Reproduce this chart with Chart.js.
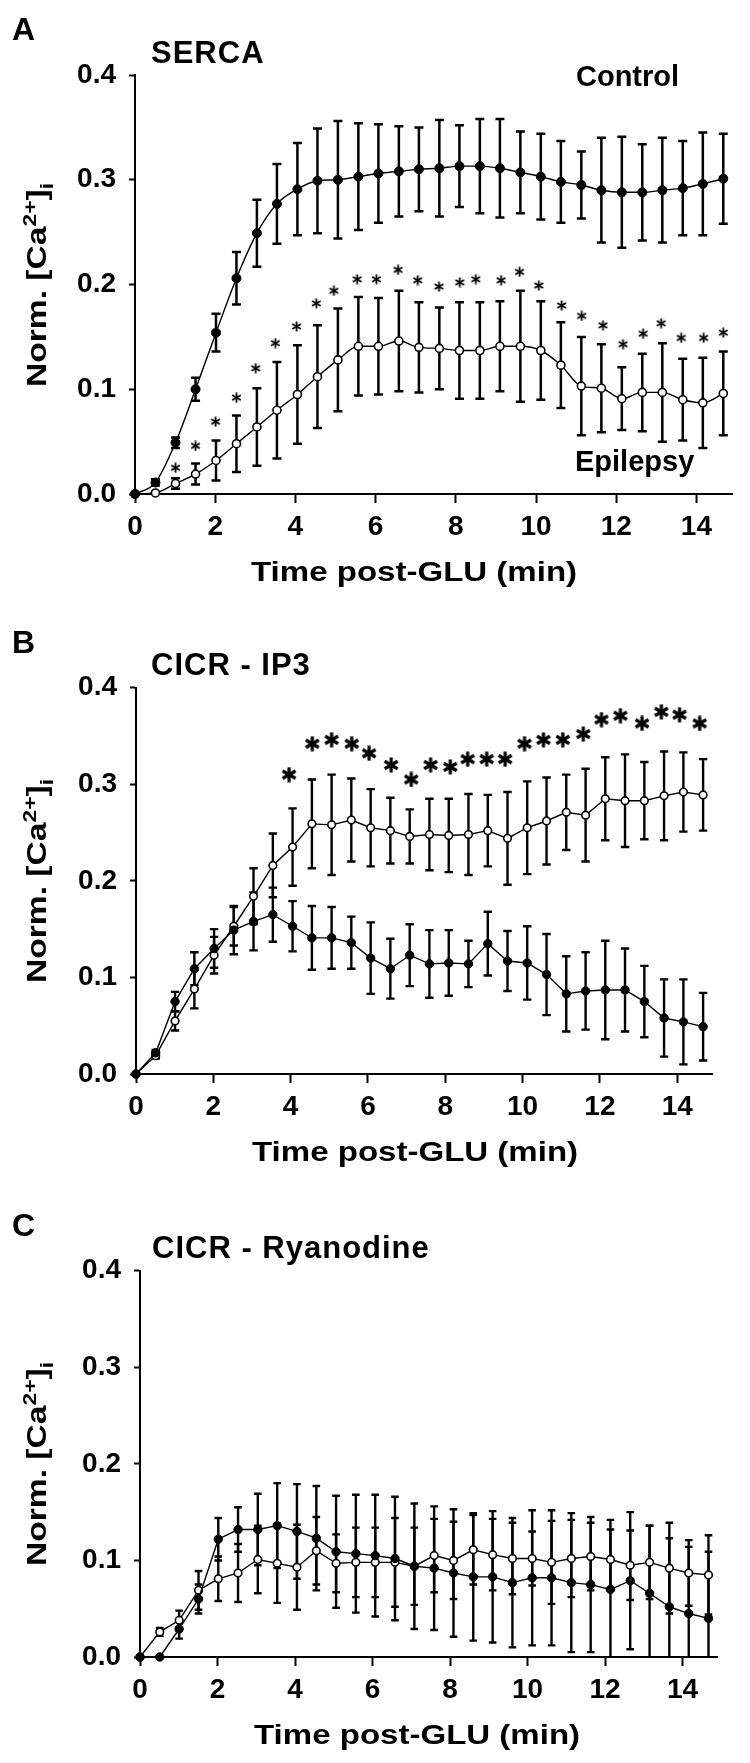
<!DOCTYPE html>
<html>
<head>
<meta charset="utf-8">
<title>Norm. [Ca2+]i post-GLU</title>
<script src="https://cdn.jsdelivr.net/npm/chart.js@4.4.1/dist/chart.umd.min.js"></script>
<style>
  html, body { margin: 0; padding: 0; background: #fff; }
  #page { position: relative; width: 750px; height: 1763px; overflow: hidden;
          font-family: "Liberation Sans", Arial, sans-serif; font-weight: bold; color: #000; }
  #page canvas { position: absolute; left: 0; }
  .txt { position: absolute; white-space: nowrap; line-height: 1; }
  .letter { font-size: 32px; }
  .title { font-size: 31px; letter-spacing: 1px; }
  .group { font-size: 29px; }
  .xlab { font-size: 28px; transform: scaleX(1.18); transform-origin: 0 0; }
  .ylab { font-size: 28px; line-height: 28px; transform: translate(-50%, -50%) rotate(-90deg) scaleX(1.2); }
  .ylab sup, .ylab sub { font-size: 19px; line-height: 0; }
</style>
</head>
<body>
<div id="page">
  <canvas id="chartA" width="750" height="560" style="top:0px"></canvas>
  <canvas id="chartB" width="750" height="560" style="top:580px"></canvas>
  <canvas id="chartC" width="750" height="560" style="top:1163px"></canvas>

  <!-- panel A -->
  <div class="txt letter" style="left:12px;top:13px">A</div>
  <div class="txt title" style="left:151px;top:37px">SERCA</div>
  <div class="txt group" style="left:576px;top:62px">Control</div>
  <div class="txt group" style="left:575px;top:447px">Epilepsy</div>
  <div class="txt xlab" style="left:251px;top:558px">Time post-GLU (min)</div>
  <div class="txt ylab" style="left:37px;top:285px">Norm. [Ca<sup>2+</sup>]<sub>i</sub></div>

  <!-- panel B -->
  <div class="txt letter" style="left:12px;top:626px">B</div>
  <div class="txt title" style="left:151px;top:649px">CICR - IP3</div>
  <div class="txt xlab" style="left:252px;top:1138px">Time post-GLU (min)</div>
  <div class="txt ylab" style="left:37px;top:881px">Norm. [Ca<sup>2+</sup>]<sub>i</sub></div>

  <!-- panel C -->
  <div class="txt letter" style="left:12px;top:1209px">C</div>
  <div class="txt title" style="left:152px;top:1232px">CICR - Ryanodine</div>
  <div class="txt xlab" style="left:254px;top:1721px">Time post-GLU (min)</div>
  <div class="txt ylab" style="left:37px;top:1464px">Norm. [Ca<sup>2+</sup>]<sub>i</sub></div>
</div>

<script>
'use strict';

/* ── Data ── */
const timeMin = [0, 0.51, 1.01, 1.51, 2.02, 2.53, 3.04, 3.54, 4.05, 4.55, 5.06, 5.57, 6.07, 6.58, 7.08,
                 7.59, 8.09, 8.6, 9.1, 9.61, 10.12, 10.62, 11.13, 11.63, 12.14, 12.65, 13.15, 13.66, 14.16, 14.67];
const xTicks = [0, 2, 4, 6, 8, 10, 12, 14];
const yTicks = [0, 0.1, 0.2, 0.3, 0.4];

// A - SERCA
const sercaCtrl    = [0, 0.011, 0.049, 0.100, 0.154, 0.206, 0.249, 0.277, 0.291, 0.299, 0.300, 0.303, 0.306, 0.308, 0.310,
                      0.311, 0.313, 0.313, 0.311, 0.307, 0.303, 0.298, 0.295, 0.290, 0.288, 0.288, 0.290, 0.292, 0.296, 0.301];
const sercaCtrlErr = [0, 0.003, 0.005, 0.011, 0.018, 0.025, 0.032, 0.038, 0.044, 0.050, 0.056, 0.051, 0.047, 0.043, 0.040,
                      0.046, 0.039, 0.045, 0.047, 0.039, 0.041, 0.039, 0.032, 0.050, 0.053, 0.046, 0.050, 0.045, 0.049, 0.043];
const sercaEpi     = [0, 0.001, 0.010, 0.019, 0.032, 0.048, 0.064, 0.080, 0.095, 0.112, 0.128, 0.141, 0.141, 0.146, 0.140,
                      0.139, 0.137, 0.137, 0.141, 0.141, 0.137, 0.123, 0.103, 0.101, 0.091, 0.097, 0.097, 0.090, 0.087, 0.096];
const sercaEpiErr  = [0, 0, 0.005, 0.010, 0.019, 0.027, 0.037, 0.046, 0.047, 0.049, 0.049, 0.047, 0.046, 0.048, 0.043,
                      0.039, 0.046, 0.046, 0.043, 0.053, 0.047, 0.041, 0.047, 0.042, 0.030, 0.037, 0.047, 0.039, 0.043, 0.040];
const sercaSigTime = [1.01, 1.51, 2.01, 2.53, 3.01, 3.5, 4.03, 4.52, 4.96, 5.54, 6.02, 6.56, 7.05, 7.58,
                      8.1, 8.5, 9.13, 9.59, 10.07, 10.64, 11.14, 11.67, 12.17, 12.67, 13.12, 13.62, 14.18, 14.67];
const sercaSigY    = [0.025, 0.046, 0.069, 0.092, 0.120, 0.144, 0.160, 0.182, 0.194, 0.205, 0.205, 0.214, 0.204, 0.198,
                      0.202, 0.205, 0.204, 0.212, 0.199, 0.180, 0.170, 0.161, 0.143, 0.153, 0.163, 0.149, 0.149, 0.154];

// B - CICR - IP3
const ip3Ctrl    = [0, 0.022, 0.075, 0.109, 0.130, 0.149, 0.158, 0.165, 0.153, 0.141, 0.141, 0.136, 0.120, 0.109, 0.123,
                    0.114, 0.115, 0.114, 0.135, 0.117, 0.115, 0.103, 0.083, 0.086, 0.087, 0.087, 0.075, 0.058, 0.054, 0.049];
const ip3CtrlErr = [0, 0.003, 0.010, 0.017, 0.020, 0.025, 0.030, 0.028, 0.026, 0.033, 0.032, 0.027, 0.037, 0.031, 0.032,
                    0.035, 0.034, 0.024, 0.033, 0.031, 0.038, 0.042, 0.039, 0.040, 0.051, 0.043, 0.037, 0.040, 0.044, 0.035];
const ip3Epi     = [0, 0.019, 0.055, 0.088, 0.123, 0.153, 0.184, 0.216, 0.235, 0.259, 0.258, 0.263, 0.255, 0.252, 0.246,
                    0.248, 0.247, 0.248, 0.252, 0.244, 0.255, 0.262, 0.271, 0.268, 0.285, 0.283, 0.283, 0.288, 0.292, 0.289];
const ip3EpiErr  = [0, 0.003, 0.010, 0.020, 0.019, 0.020, 0.029, 0.033, 0.040, 0.046, 0.052, 0.043, 0.040, 0.034, 0.028,
                    0.037, 0.038, 0.042, 0.037, 0.048, 0.048, 0.045, 0.039, 0.048, 0.043, 0.048, 0.040, 0.046, 0.041, 0.037];
const ip3SigTime = [3.96, 4.56, 5.06, 5.58, 6.03, 6.6, 7.12, 7.62, 8.13, 8.58, 9.07, 9.55, 10.05, 10.54, 11.04,
                    11.57, 12.04, 12.53, 13.09, 13.59, 14.06, 14.58];
const ip3SigY    = [0.310, 0.342, 0.346, 0.342, 0.332, 0.320, 0.305, 0.320, 0.318, 0.326, 0.326, 0.326, 0.342, 0.346, 0.346,
                    0.352, 0.367, 0.371, 0.363, 0.375, 0.372, 0.363];

// C - CICR - Ryanodine
const ryaCtrl    = [0, 0, 0.029, 0.060, 0.122, 0.132, 0.132, 0.136, 0.130, 0.123, 0.109, 0.107, 0.105, 0.102, 0.094,
                    0.092, 0.087, 0.083, 0.083, 0.077, 0.082, 0.082, 0.077, 0.075, 0.070, 0.079, 0.066, 0.052, 0.045, 0.040];
const ryaCtrlErr = [0, 0, 0.010, 0.015, 0.022, 0.023, 0.037, 0.044, 0.049, 0.054, 0.058, 0.061, 0.063, 0.064, 0.065,
                    0.064, 0.066, 0.066, 0.068, 0.067, 0.070, 0.070, 0.072, 0.070, 0.072, 0.071, 0.070, 0.071, 0.069, 0.069];
const ryaEpi     = [0, 0.026, 0.038, 0.069, 0.081, 0.087, 0.101, 0.097, 0.093, 0.110, 0.097, 0.098, 0.098, 0.098, 0.094,
                    0.105, 0.100, 0.111, 0.106, 0.102, 0.102, 0.098, 0.102, 0.104, 0.101, 0.095, 0.098, 0.092, 0.087, 0.085];
const ryaEpiErr  = [0, 0.004, 0.010, 0.020, 0.023, 0.030, 0.035, 0.041, 0.044, 0.035, 0.030, 0.036, 0.036, 0.046, 0.040,
                    0.038, 0.040, 0.036, 0.037, 0.037, 0.028, 0.043, 0.040, 0.035, 0.031, 0.036, 0.038, 0.047, 0.034, 0.041];

/* ── Shared bits ── */
const FONT = '"Liberation Sans", Arial, sans-serif';
const tickFont = { family: FONT, size: 28, weight: 'bold' };

// asterisk used as a point image (size px, stroke px)
function makeStar(size, stroke) {
  const c = document.createElement('canvas');
  c.width = c.height = size;
  const g = c.getContext('2d');
  const r = size / 2 - 0.5;
  g.strokeStyle = '#000';
  g.lineWidth = stroke;
  for (let k = 0; k < 3; k++) {
    const a = Math.PI / 2 + k * Math.PI / 3;
    g.beginPath();
    g.moveTo(size / 2 + r * Math.cos(a), size / 2 + r * Math.sin(a));
    g.lineTo(size / 2 - r * Math.cos(a), size / 2 - r * Math.sin(a));
    g.stroke();
  }
  return c;
}

// vertical SEM bars with caps, drawn under the markers
const errorBars = {
  id: 'errorBars',
  beforeDatasetsDraw(chart, args, opts) {
    const { ctx, chartArea: area, scales: { x, y } } = chart;
    ctx.save();
    ctx.beginPath();
    ctx.rect(area.left - 20, area.top - 40, area.right - area.left + 40, area.bottom - area.top + 40);
    ctx.clip();
    ctx.strokeStyle = '#000';
    ctx.lineWidth = opts.width || 2.4;
    const cap = opts.cap || 4.5;
    chart.data.datasets.forEach(ds => {
      if (!ds.errors) return;
      ds.data.forEach((p, i) => {
        const e = ds.errors[i];
        if (!e) return;
        const px = x.getPixelForValue(p.x);
        const top = y.getPixelForValue(p.y + e);
        const bot = y.getPixelForValue(p.y - e);
        ctx.beginPath();
        ctx.moveTo(px, top); ctx.lineTo(px, bot);
        ctx.moveTo(px - cap, top); ctx.lineTo(px + cap, top);
        if (p.y - e > 0) { ctx.moveTo(px - cap, bot); ctx.lineTo(px + cap, bot); }
        ctx.stroke();
      });
    });
    ctx.restore();
  }
};

function points(xs, ys) {
  return xs.map((t, i) => ({ x: t, y: ys[i] }));
}

function makePanel(id, p) {
  const ctx = document.getElementById(id);
  if (!ctx) return;

  const lineOpts = {
    borderColor: '#000',
    borderWidth: 1.4,
    pointBorderColor: '#000',
    clip: false,
    cubicInterpolationMode: p.smooth ? 'monotone' : 'default',
    tension: 0,
  };

  new Chart(ctx, {
    type: 'line',
    data: {
      datasets: [
        { ...lineOpts, label: 'Control', data: points(timeMin, p.ctrl), errors: p.ctrlErr,
          pointRadius: p.rFill, pointBackgroundColor: '#000', pointBorderWidth: 1 },
        { ...lineOpts, label: 'Epilepsy', data: points(timeMin, p.epi), errors: p.epiErr,
          pointRadius: p.rOpen, pointBackgroundColor: '#fff', pointBorderWidth: 1.6 },
        { label: 'p < 0.05', data: p.sigTime ? points(p.sigTime, p.sigY) : [],
          showLine: false, pointStyle: p.star, clip: false },
      ]
    },
    options: {
      responsive: false,
      animation: false,
      events: [],
      layout: { padding: { left: 0, top: p.top, right: p.right, bottom: 0 } },
      plugins: {
        legend: { display: false },
        tooltip: { enabled: false },
        errorBars: { width: p.errWidth, cap: p.cap },
      },
      scales: {
        x: {
          type: 'linear', min: 0, max: 14.9,
          afterBuildTicks: s => { s.ticks = xTicks.map(v => ({ value: v })); },
          afterFit: s => { s.height = 66; },
          grid: { drawOnChartArea: false, drawTicks: true, tickLength: 9, tickWidth: 2, tickColor: '#000' },
          border: { display: true, color: '#000', width: 2 },
          ticks: { color: '#000', font: tickFont, padding: 7, maxRotation: 0, autoSkip: false,
                   callback: v => String(v) },
        },
        y: {
          type: 'linear', min: 0, max: 0.4,
          afterBuildTicks: s => { s.ticks = yTicks.map(v => ({ value: v })); },
          afterFit: s => { s.width = p.yWidth; },
          grid: { drawOnChartArea: false, drawTicks: true, tickLength: 6, tickWidth: 2, tickColor: '#000' },
          border: { display: true, color: '#000', width: 2 },
          ticks: { color: '#000', font: tickFont, padding: 13, callback: v => v.toFixed(1) },
        }
      }
    },
    plugins: [errorBars]
  });
}

/* ── A: SERCA ── */
makePanel('chartA', {
  ctrl: sercaCtrl, ctrlErr: sercaCtrlErr, epi: sercaEpi, epiErr: sercaEpiErr,
  sigTime: sercaSigTime, sigY: sercaSigY, star: makeStar(11, 1.8),
  top: 75, right: 17.5, yWidth: 135, smooth: true,
  rFill: 4.5, rOpen: 4, errWidth: 2.5, cap: 4.5,
});

/* ── B: CICR - IP3 ── */
makePanel('chartB', {
  ctrl: ip3Ctrl, ctrlErr: ip3CtrlErr, epi: ip3Epi, epiErr: ip3EpiErr,
  sigTime: ip3SigTime, sigY: ip3SigY, star: makeStar(16, 3.2),
  top: 107.7, right: 38, yWidth: 136, smooth: false,
  rFill: 4.2, rOpen: 3.8, errWidth: 2.4, cap: 4.2,
});

/* ── C: CICR - Ryanodine ── */
makePanel('chartC', {
  ctrl: ryaCtrl, ctrlErr: ryaCtrlErr, epi: ryaEpi, epiErr: ryaEpiErr,
  sigTime: null, sigY: null, star: 'circle',
  top: 107.7, right: 32.6, yWidth: 140, smooth: false,
  rFill: 4.2, rOpen: 3.8, errWidth: 2.4, cap: 3.8,
});
</script>
</body>
</html>
